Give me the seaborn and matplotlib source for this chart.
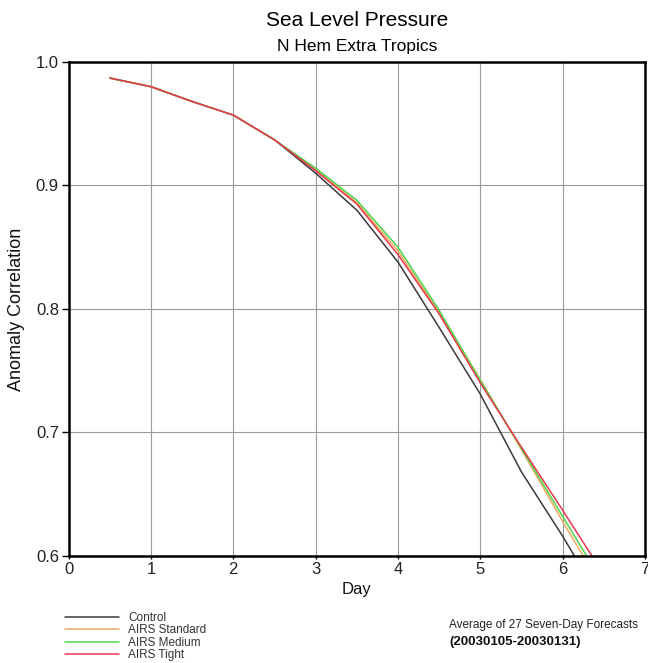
import matplotlib
matplotlib.use("Agg")
import matplotlib.pyplot as plt
import numpy as np
import pandas as pd
import seaborn as sns

days = [0.5, 1.0, 1.5, 2.0, 2.5, 3.0, 3.5, 4.0, 4.5, 5.0, 5.5, 6.0, 6.5]
control = [0.987, 0.980, 0.968, 0.957, 0.937, 0.910, 0.880, 0.838, 0.785, 0.731, 0.668, 0.616, 0.560]
airs_standard = [0.987, 0.980, 0.968, 0.957, 0.937, 0.913, 0.886, 0.847, 0.797, 0.743, 0.686, 0.628, 0.572]
airs_medium = [0.987, 0.980, 0.968, 0.957, 0.937, 0.914, 0.888, 0.850, 0.799, 0.742, 0.687, 0.632, 0.577]
airs_tight = [0.987, 0.980, 0.968, 0.957, 0.937, 0.912, 0.885, 0.844, 0.796, 0.740, 0.688, 0.637, 0.585]

series_names = ["Control", "AIRS Standard", "AIRS Medium", "AIRS Tight"]
series_values = [control, airs_standard, airs_medium, airs_tight]
x_ticks = [0, 1, 2, 3, 4, 5, 6, 7]
y_ticks = [0.6, 0.7, 0.8, 0.9, 1.0]
y_tick_labels = ["0.6", "0.7", "0.8", "0.9", "1.0"]

colors = {"Control": "#3a3a3a", "AIRS Standard": "#f0a860",
          "AIRS Medium": "#4cd44c", "AIRS Tight": "#e8384c"}

df = pd.concat([pd.DataFrame({"Day": days, "AC": v, "Run": n})
                for n, v in zip(series_names, series_values)], ignore_index=True)

sns.set_style("white")
plt.rcParams["font.family"] = ["Liberation Sans", "DejaVu Sans"]
plt.rcParams["text.color"] = "black"

fig = plt.figure(figsize=(6.48, 6.63), dpi=100)
ax = fig.add_axes([0.1059, 0.1614, 0.8895, 0.7451])

sns.lineplot(data=df, x="Day", y="AC", hue="Run", hue_order=series_names,
             palette=colors, linewidth=1.1, ax=ax, legend=False)

ax.set_xlim(0, 7)
ax.set_ylim(0.6, 1.0)
ax.set_xticks(x_ticks)
ax.set_yticks(y_ticks)
ax.set_yticklabels(y_tick_labels)
ax.grid(True, color="#9a9a9a", linewidth=0.8)
ax.set_axisbelow(True)
for s in ax.spines.values():
    s.set_color("black")
    s.set_linewidth(1.8)
ax.tick_params(axis="y", direction="out", length=5, width=1, color="black",
               labelsize=12, pad=2, left=True, labelcolor="#222222")
ax.tick_params(axis="x", direction="out", length=2, width=1, color="black",
               labelsize=12, pad=2, bottom=True, labelcolor="#222222")
ax.set_xlabel("Day", fontsize=12, labelpad=4, color="#111111")
ax.set_ylabel("Anomaly Correlation", fontsize=13, labelpad=8, color="#111111")

cx = (0.1059 + 0.1059 + 0.8895) / 2
fig.text(cx, 1 - 21 / 663, "Sea Level Pressure", ha="center", va="center", fontsize=15)
fig.text(cx, 1 - 46 / 663, "N Hem Extra Tropics", ha="center", va="center", fontsize=12.5)

handles = [plt.Line2D([], [], color=colors[n], linewidth=1.1) for n in series_names]
leg = fig.legend(handles, series_names, loc="upper left",
                 bbox_to_anchor=(60 / 648, 1 - 607 / 663), frameon=False,
                 fontsize=8.5, handlelength=4.6, handletextpad=0.8,
                 labelspacing=0.05, borderaxespad=0)
for t in leg.get_texts():
    t.set_color("#333333")

fig.text(449 / 648, 1 - 625 / 663, "Average of 27 Seven-Day Forecasts",
         ha="left", va="center", fontsize=8.5, color="#222222")
fig.text(449 / 648, 1 - 642 / 663, "(20030105-20030131)",
         ha="left", va="center", fontsize=9.5, color="#111111", fontweight="bold")

fig.savefig("out.png", dpi=100)
